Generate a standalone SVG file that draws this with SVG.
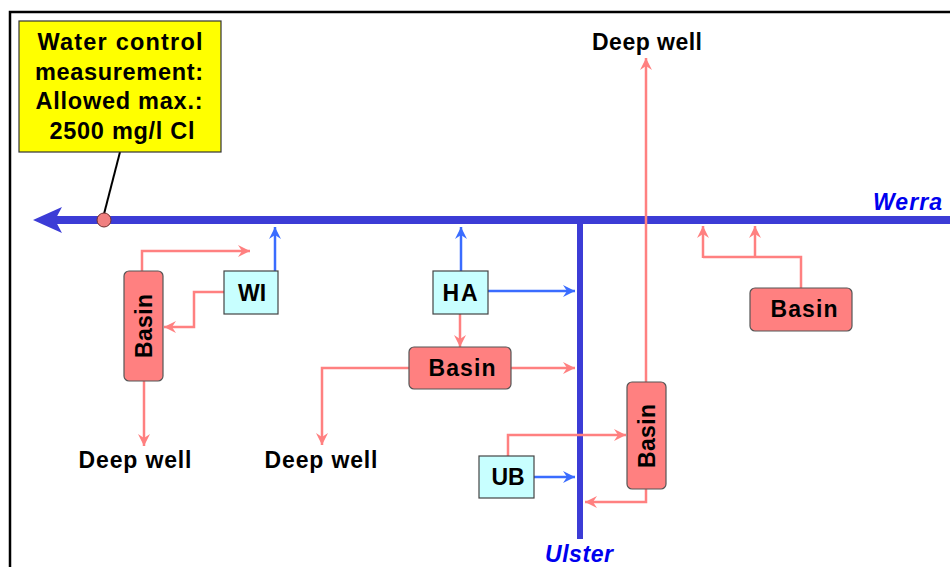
<svg xmlns="http://www.w3.org/2000/svg" width="950" height="567" viewBox="0 0 950 567">
<defs>
<marker id="ar" markerUnits="userSpaceOnUse" viewBox="0 0 12 12" refX="12" refY="6" markerWidth="12" markerHeight="12" orient="auto">
<path d="M0,0 L12,6 L0,12 L4,6 z" fill="#ff8080"/>
</marker>
<marker id="ab" markerUnits="userSpaceOnUse" viewBox="0 0 12 12" refX="12" refY="6" markerWidth="12" markerHeight="12" orient="auto">
<path d="M0,0 L12,6 L0,12 L4,6 z" fill="#3a6cff"/>
</marker>
</defs>
<style>
.t{font-family:"Liberation Sans",Arial,sans-serif;font-weight:bold;fill:#000;text-anchor:middle}
.river{fill:#0000ee;font-family:"Liberation Sans",Arial,sans-serif;font-weight:bold;font-style:italic;font-size:23px}
.red{fill:none;stroke:#ff8080;stroke-width:2.5;marker-end:url(#ar)}
.redn{fill:none;stroke:#ff8080;stroke-width:2.5}
.blue{fill:none;stroke:#3a6cff;stroke-width:2.5;marker-end:url(#ab)}
.basin{fill:#ff8080;stroke:#555;stroke-width:1.2}
.box{fill:#c8ffff;stroke:#444;stroke-width:1.2}
</style>
<rect x="0" y="0" width="950" height="567" fill="#fff"/>
<rect x="10" y="12" width="980" height="600" fill="none" stroke="#000" stroke-width="2.5"/>

<g id="connectors">
<line x1="52" y1="220" x2="950" y2="220" stroke="#3c3cd6" stroke-width="8"/>
<polygon points="33,220 62,207 55,220 62,233" fill="#3c3cd6"/>
<line x1="580" y1="220" x2="580" y2="539" stroke="#3c3cd6" stroke-width="6"/>
<line x1="120" y1="152" x2="104" y2="214" stroke="#000" stroke-width="2"/>
<circle cx="104" cy="220" r="7" fill="#f08080" stroke="#703030" stroke-width="1"/>

<path class="red" d="M142,271 V251 H250"/>
<path class="blue" d="M275,271 V227"/>
<path class="red" d="M224,292 H194 V327 H164"/>
<path class="red" d="M144,381 V446"/>
<path class="blue" d="M461,271 V227"/>
<path class="blue" d="M488,291 H575"/>
<path class="red" d="M460,314 V347"/>
<path class="red" d="M511,368 H575"/>
<path class="red" d="M409,368 H322 V445"/>
<path class="blue" d="M534,477 H575"/>
<path class="red" d="M508,456 V435 H626"/>
<path class="red" d="M646,489 V502 H585"/>
<path class="red" d="M646,382 V58"/>
<path class="redn" d="M801,288 V257 H703"/>
<path class="red" d="M703,258 V226"/>
<path class="red" d="M755,258 V226"/>
</g>

<g id="note">
<rect x="19" y="21" width="202" height="131" fill="#ffff00" stroke="#333" stroke-width="1.2"/>
<text class="t" x="120" y="50" font-size="23.5" textLength="165" lengthAdjust="spacing">Water control</text>
<text class="t" x="119" y="80" font-size="23.5" textLength="168" lengthAdjust="spacing">measurement:</text>
<text class="t" x="119" y="109" font-size="23.5" textLength="167" lengthAdjust="spacing">Allowed max.:</text>
<text class="t" x="122" y="139" font-size="23.5" textLength="145" lengthAdjust="spacing">2500 mg/l Cl</text>
</g>

<g id="basin1">
<rect class="basin" x="124" y="271" width="39" height="110" rx="5"/>
<text class="t" font-size="23" transform="translate(152,326) rotate(-90)" x="0" y="0" textLength="64" lengthAdjust="spacing">Basin</text>
</g>
<g id="wi">
<rect class="box" x="224" y="271" width="54" height="43"/>
<text class="t" x="252" y="301" font-size="23">WI</text>
</g>
<g id="ha">
<rect class="box" x="433" y="271" width="55" height="43"/>
<text class="t" x="460" y="301" font-size="23" textLength="35" lengthAdjust="spacing">HA</text>
</g>
<g id="basin2">
<rect class="basin" x="409" y="347" width="102" height="42" rx="5"/>
<text class="t" x="462" y="376" font-size="23" textLength="67" lengthAdjust="spacing">Basin</text>
</g>
<g id="ub">
<rect class="box" x="479" y="456" width="55" height="42"/>
<text class="t" x="508" y="485" font-size="23" textLength="33" lengthAdjust="spacing">UB</text>
</g>
<g id="basin3">
<rect class="basin" x="627" y="382" width="39" height="107" rx="5"/>
<text class="t" font-size="23" transform="translate(655,436) rotate(-90)" x="0" y="0" textLength="64" lengthAdjust="spacing">Basin</text>
</g>
<g id="basin4">
<rect class="basin" x="750" y="288" width="102" height="43" rx="5"/>
<text class="t" x="804" y="317" font-size="23" textLength="67" lengthAdjust="spacing">Basin</text>
</g>

<g id="labels">
<text class="t" x="135" y="468" font-size="23" textLength="113" lengthAdjust="spacing">Deep well</text>
<text class="t" x="321" y="468" font-size="23" textLength="113" lengthAdjust="spacing">Deep well</text>
<text class="t" x="647" y="50" font-size="23" textLength="110" lengthAdjust="spacing">Deep well</text>
<text class="river" x="873" y="210" textLength="69" lengthAdjust="spacing">Werra</text>
<text class="river" x="545" y="562" textLength="68" lengthAdjust="spacing">Ulster</text>
</g>
</svg>
